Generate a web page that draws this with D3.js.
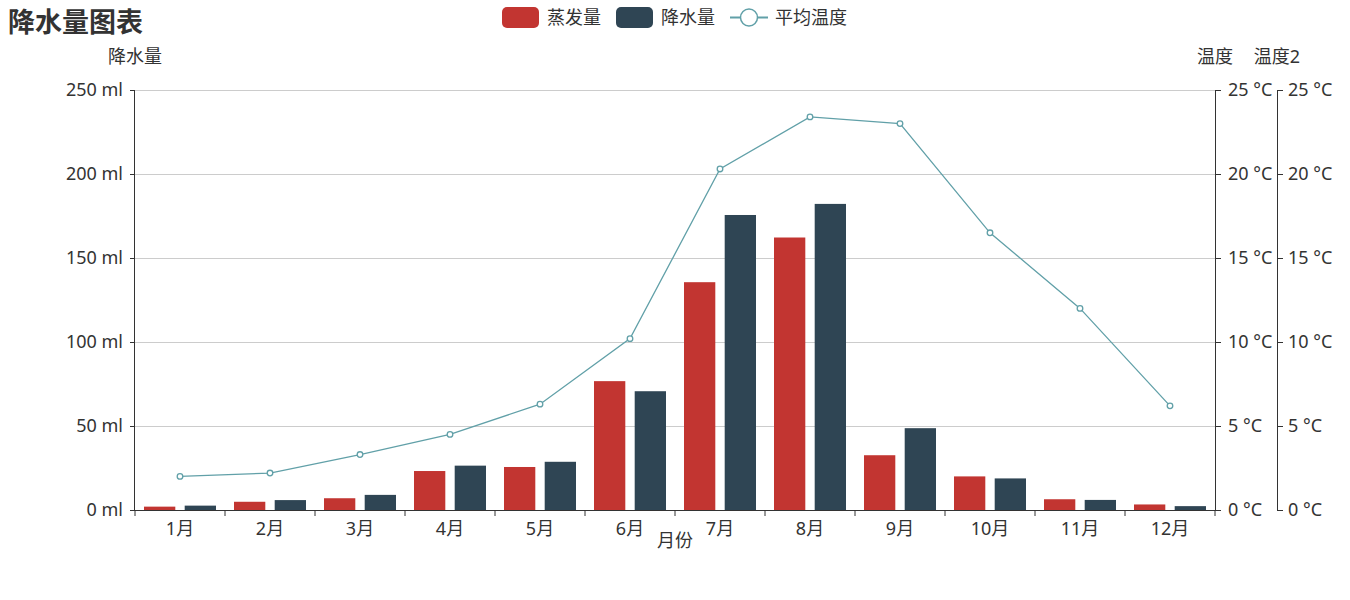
<!DOCTYPE html>
<html><head><meta charset="utf-8">
<script src="https://cdn.jsdelivr.net/npm/d3@7/dist/d3.min.js"></script>
<style>
html,body{margin:0;padding:0;background:#fff;}
svg{display:block;font-family:"Noto Sans","Noto Sans CJK SC",sans-serif;}
</style></head><body>
<svg id="c" width="1350" height="600"></svg>
<script>
const months = ["1月","2月","3月","4月","5月","6月","7月","8月","9月","10月","11月","12月"];
const evaporation = [2.0, 4.9, 7.0, 23.2, 25.6, 76.7, 135.6, 162.2, 32.6, 20.0, 6.4, 3.3];
const precipitation = [2.6, 5.9, 9.0, 26.4, 28.7, 70.7, 175.6, 182.2, 48.7, 18.8, 6.0, 2.3];
const temperature = [2.0, 2.2, 3.3, 4.5, 6.3, 10.2, 20.3, 23.4, 23.0, 16.5, 12.0, 6.2];
const seriesNames = ["蒸发量","降水量","平均温度"];
const leftTicks = [0,50,100,150,200,250];
const rightTicks = [0,5,10,15,20,25];
const colors = ["#c23531","#2f4554","#61a0a8"];

const svg = d3.select("#c");
const L = 135, R = 1215, T = 90, B = 510, R2 = 1277;
const txt = "#333";
const FS = 18;

const x = d3.scaleBand().domain(months).range([L, R]).paddingInner(0).paddingOuter(0);
const bw = x.bandwidth();
const xs = d3.scaleBand().domain([0,1]).range([bw*0.1, bw*0.9]).paddingInner(0.3/1.3).paddingOuter(0);
const yL = d3.scaleLinear().domain([0,250]).range([B, T]);
const yR = d3.scaleLinear().domain([0,25]).range([B, T]);

// title
svg.append("text").attr("x", 8).attr("y", 31.5).attr("font-size", 27).attr("font-weight", "bold")
  .attr("fill", txt).attr("font-family", '"Noto Sans CJK SC",sans-serif').text("降水量图表");

// grid
svg.append("g").selectAll("line").data(leftTicks).join("line")
  .attr("x1", L).attr("x2", R).attr("y1", d => yL(d) + 0.5).attr("y2", d => yL(d) + 0.5)
  .attr("stroke", "#ccc").attr("stroke-width", 1);

// bars
const gb = svg.append("g");
[evaporation, precipitation].forEach((arr, si) => {
  gb.selectAll(".b"+si).data(arr).join("rect")
    .attr("x", (d,i) => x(months[i]) + xs(si))
    .attr("width", xs.bandwidth())
    .attr("y", d => yL(d))
    .attr("height", d => B - yL(d))
    .attr("fill", colors[si]);
});

// left axis
const axL = d3.axisLeft(yL).tickValues(leftTicks).tickSize(5).tickPadding(7).tickFormat(d => d + " ml");
const gL = svg.append("g").attr("transform", `translate(${L},0)`).call(axL);
// right axes
const fmtC = d => d + " °C";
const gR1 = svg.append("g").attr("transform", `translate(${R},0)`)
  .call(d3.axisRight(yR).tickValues(rightTicks).tickSize(6).tickPadding(7).tickFormat(fmtC));
const gR2 = svg.append("g").attr("transform", `translate(${R2},0)`)
  .call(d3.axisRight(yR).tickValues(rightTicks).tickSize(6).tickPadding(5).tickFormat(fmtC));
// x axis
const gX = svg.append("g").attr("transform", `translate(0,${B})`)
  .call(d3.axisBottom(x).tickSize(0).tickPadding(12));
gX.selectAll(".tick text").attr("dy", "0.71em");
gX.append("g").selectAll("line").data(d3.range(months.length+1)).join("line")
  .attr("x1", i => L + i*bw).attr("x2", i => L + i*bw).attr("y1", 0).attr("y2", 6)
  .attr("stroke", txt);

[gL, gR1, gR2, gX].forEach(g => {
  g.selectAll(".domain").attr("stroke", txt).attr("stroke-width", 1).attr("d", null);
  g.selectAll("text").attr("font-size", FS).attr("fill", txt).attr("font-family", null);
  g.selectAll(".tick line").attr("stroke", txt);
  g.attr("font-family", null);
});
gL.select(".domain").attr("d", `M-0.5,${T}V${B}`);
gR1.select(".domain").attr("d", `M0.5,${T}V${B}`);
gR2.select(".domain").attr("d", `M0.5,${T}V${B}`);
gX.select(".domain").attr("d", `M${L},0.5H${R}`);

// line series
const line = d3.line().x((d,i) => x(months[i]) + bw/2).y(d => yR(d));
svg.append("path").datum(temperature).attr("d", line).attr("fill", "none")
  .attr("stroke", colors[2]).attr("stroke-width", 1.3);
svg.append("g").selectAll("circle").data(temperature).join("circle")
  .attr("cx", (d,i) => x(months[i]) + bw/2).attr("cy", d => yR(d)).attr("r", 2.8)
  .attr("fill", "#fff").attr("stroke", colors[2]).attr("stroke-width", 1.3);

// axis names
const nameStyle = s => s.attr("font-size", FS).attr("fill", txt).attr("text-anchor", "middle");
svg.append("text").attr("x", L).attr("y", 63).call(nameStyle).text("降水量");
svg.append("text").attr("x", R).attr("y", 63).call(nameStyle).text("温度");
svg.append("text").attr("x", R2).attr("y", 63).call(nameStyle).text("温度2");
svg.append("text").attr("x", (L+R)/2).attr("y", 547).call(nameStyle).text("月份");

// legend
const lg = svg.append("g");
const legX = [502, 616, 730];
seriesNames.forEach((n, i) => {
  const g = lg.append("g").attr("transform", `translate(${legX[i]},0)`);
  if (i < 2) {
    g.append("rect").attr("x", 0).attr("y", 7).attr("width", 37).attr("height", 21).attr("rx", 5).attr("fill", colors[i]);
  } else {
    g.append("line").attr("x1", 0).attr("x2", 38).attr("y1", 17.5).attr("y2", 17.5).attr("stroke", colors[2]).attr("stroke-width", 2);
    g.append("circle").attr("cx", 19).attr("cy", 17.5).attr("r", 8.5).attr("fill", "#fff").attr("stroke", colors[2]).attr("stroke-width", 1.5);
  }
  g.append("text").attr("x", 45).attr("y", 23.5).attr("font-size", FS).attr("fill", txt).text(n);
});
</script>
</body></html>
